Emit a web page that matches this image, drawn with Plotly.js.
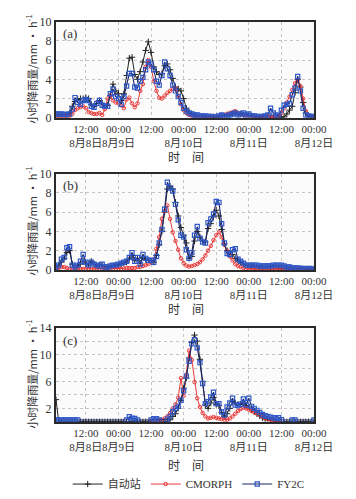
<!DOCTYPE html>
<html>
<head>
<meta charset="utf-8">
<script src="https://cdn.plot.ly/plotly-3.0.1.min.js"></script>
<style>
html,body{margin:0;padding:0;background:#fff;}
#chart{width:356px;height:499px;}
</style>
</head>
<body>
<div id="chart"></div>
<script>
// hours since 8月8日 00:00 (one value per hour, h = 1 … 96)
const hours = Array.from({length: 96}, (_, i) => i + 1);

const tickHours = [12, 24, 36, 48, 60, 72, 84, 96];
const tickLabels = ["12:00<br>8月8日", "00:00<br>8月9日", "12:00", "00:00<br>8月10日",
                    "12:00", "00:00<br>8月11日", "12:00", "00:00<br>8月12日"];

const seriesNames = ["自动站", "CMORPH", "FY2C"];
const panelLabels = ["(a)", "(b)", "(c)"];
const yTitle = "小时降雨量/mm · h<sup>-1</sup>";
const xTitle = "时　间";

// ---- panel (a) ----
const autoA = [
 0.3,0.3,0.3,0.3,0.3,0.5,1.2,1.7,1.9,2.0,
 2.0,2.1,2.0,1.4,1.2,1.5,1.8,1.5,1.2,1.3,
 2.3,3.5,2.8,2.5,1.8,2.5,4.4,6.2,6.3,4.5,
 4.0,4.8,5.8,7.0,7.9,6.8,5.3,4.8,4.5,4.6,
 5.4,5.6,5.0,4.1,3.2,3.0,2.8,2.0,1.0,0.6,
 0.4,0.3,0.2,0.2,0.1,0.1,0.1,0.1,0.1,0.1,
 0.1,0.2,0.2,0.3,0.3,0.4,0.5,0.4,0.4,0.3,
 0.3,0.3,0.2,0.1,0.1,0.1,0.1,0.1,0.1,0.1,
 0.1,0.1,0.05,0.05,0.1,0.4,0.8,1.2,2.6,4.0,
 3.2,1.6,0.5,0.2,0.1,0.1];
const cmorphA = [
 0.1,0.1,0.1,0.1,0.15,0.2,0.4,0.8,1.0,1.1,
 1.2,1.0,0.6,0.5,0.4,0.4,0.5,0.3,0.9,2.0,
 2.3,1.8,1.6,1.5,1.3,1.0,1.9,2.1,1.5,1.1,
 1.5,2.8,3.5,5.3,6.0,5.3,3.8,2.8,2.1,2.0,
 2.3,2.6,2.8,3.0,3.0,2.3,1.4,0.8,0.5,0.3,
 0.2,0.15,0.1,0.1,0.1,0.1,0.1,0.1,0.1,0.1,
 0.1,0.2,0.3,0.4,0.5,0.6,0.7,0.5,0.4,0.3,
 0.3,0.2,0.2,0.1,0.1,0.1,0.1,0.1,0.1,0.1,
 0.1,0.1,0.2,0.5,1.0,1.6,2.2,2.9,3.6,3.9,
 3.3,2.0,0.7,0.2,0.1,0.1];
const fy2cA = [
 0.4,0.4,0.4,0.35,0.35,0.4,0.9,2.1,1.6,1.4,
 1.8,1.9,1.8,1.2,1.1,1.5,1.8,1.3,1.2,1.2,
 2.5,3.0,2.2,2.0,1.4,2.2,3.3,4.6,4.6,3.2,
 3.1,3.8,4.2,5.0,5.8,5.6,5.0,3.8,3.4,4.4,
 5.8,5.1,4.4,3.4,2.8,2.2,1.6,1.0,0.7,0.5,
 0.4,0.3,0.3,0.2,0.2,0.2,0.15,0.15,0.1,0.1,
 0.2,0.3,0.2,0.2,0.3,0.4,0.5,0.3,0.4,0.5,
 0.3,0.4,0.2,0.2,0.15,0.1,0.15,0.2,0.3,1.0,
 0.5,0.3,0.2,0.8,1.3,1.4,1.5,2.4,3.1,4.3,
 2.8,1.0,0.3,0.2,0.15,0.1];

// ---- panel (b) ----
const autoB = [
 0.2,0.4,0.8,1.2,1.8,2.0,0.6,0.3,0.4,0.6,
 0.9,0.6,0.5,0.9,0.6,0.4,0.5,0.5,0.3,0.3,
 0.4,0.4,0.5,0.5,0.6,0.7,0.8,1.2,1.5,1.0,
 1.2,0.7,1.3,1.1,1.0,0.9,0.8,1.5,2.6,4.0,
 6.0,8.4,8.7,8.4,7.0,5.6,4.4,3.6,2.8,1.2,
 1.4,3.0,4.0,3.4,3.0,2.9,4.3,4.8,5.5,6.2,
 5.6,4.2,2.7,2.0,1.6,1.6,1.2,1.0,0.8,0.6,
 0.5,0.4,0.4,0.3,0.3,0.3,0.3,0.3,0.3,0.3,
 0.3,0.3,0.2,0.2,0.2,0.2,0.2,0.1,0.1,0.1,
 0.1,0.1,0.1,0.1,0.1,0.1];
const cmorphB = [
 0.1,0.2,0.3,0.3,0.2,0.1,0.1,0.1,0.1,0.1,
 0.1,0.1,0.1,0.1,0.1,0.1,0.1,0.1,0.1,0.1,
 0.1,0.1,0.1,0.1,0.1,0.15,0.2,0.2,0.2,0.2,
 0.3,0.3,0.4,0.5,0.6,0.8,1.1,2.2,3.4,5.3,
 6.1,6.7,5.3,3.9,3.0,2.1,1.2,0.7,0.45,0.35,
 0.4,0.5,0.6,0.8,1.1,1.5,2.0,2.5,3.1,3.6,
 3.9,3.4,2.6,2.0,1.4,1.0,0.6,0.4,0.3,0.2,
 0.1,0.1,0.1,0.1,0.1,0.1,0.1,0.1,0.1,0.1,
 0.1,0.1,0.1,0.1,0.1,0.1,0.1,0.1,0.1,0.1,
 0.1,0.1,0.1,0.1,0.1,0.1];
const fy2cB = [
 0.3,0.5,1.1,1.3,2.3,2.4,0.5,0.3,0.5,0.9,
 1.6,0.8,0.5,0.8,0.6,0.5,0.4,0.6,0.3,0.3,
 0.4,0.5,0.5,0.6,0.7,0.8,0.9,1.3,1.8,0.9,
 1.3,0.6,1.6,1.2,1.0,1.0,0.8,1.4,2.8,4.2,
 6.3,9.1,8.5,8.2,6.8,5.2,3.6,3.4,2.1,1.2,
 1.8,3.6,4.5,3.3,2.9,2.8,4.9,5.3,5.8,7.1,
 7.0,4.8,2.8,1.7,1.6,2.1,2.2,1.1,0.9,0.7,
 0.5,0.5,0.5,0.5,0.5,0.4,0.4,0.4,0.4,0.4,
 0.5,0.5,0.5,0.5,0.4,0.3,0.3,0.2,0.2,0.2,
 0.15,0.15,0.1,0.15,0.1,0.1];

// ---- panel (c) ----
const autoC = [
 3.3,0,0,0,0,0,0,0,0,0,
 0,0,0,0,0,0,0,0,0,0,
 0,0,0,0,0,0,0,0,0,0,
 0,0,0,0,0,0,0,0,0,0,
 0,0,0.3,0.8,1.2,2.0,3.2,5.0,6.5,9.5,
 11.8,12.9,12.0,9.3,6.0,2.5,2.0,2.8,3.6,2.6,
 2.4,1.4,0.8,1.2,2.0,3.0,2.8,2.6,2.6,2.7,
 2.4,2.2,1.8,1.5,1.2,0.9,0.6,0.4,0.3,0.2,
 0.1,0,0,0,0,0,0,0,0,0,
 0,0,0,0,0,0];
const cmorphC = [
 null,null,null,null,null,null,null,null,null,null,
 null,null,null,null,null,null,null,null,null,null,
 null,null,null,null,null,null,null,null,null,null,
 null,null,null,null,null,0.1,0.15,0.2,0.25,0.3,
 0.5,0.8,1.3,2.0,2.6,3.6,6.5,3.9,7.0,10.6,
 9.2,5.9,3.5,2.2,1.3,0.8,0.5,0.6,0.7,0.6,
 0.5,0.4,0.3,0.3,0.5,0.8,1.2,1.6,1.9,2.1,
 2.0,1.8,1.6,1.4,1.2,1.0,0.8,0.6,0.4,0.3,
 0.2,0.1,0.1,null,null,null,null,null,null,null,
 null,null,null,null,null,null];
const fy2cC = [
 0.27,0.27,0.27,0.27,0.27,0.27,0.27,0.27,0.27,null,
 null,null,null,null,null,null,null,null,null,null,
 null,null,null,null,null,null,0.27,0.75,0.55,0.5,
 0.27,null,null,null,null,0.27,0.45,0.45,0.27,null,
 null,0.4,0.8,1.5,2.0,2.3,3.2,4.6,6.8,9.0,
 11.6,12.2,11.0,8.8,5.7,2.7,3.0,3.7,4.4,2.7,
 2.7,1.5,1.0,2.2,2.8,3.5,2.5,2.4,2.6,3.4,
 2.5,3.5,2.3,2.0,1.7,1.4,1.1,0.9,0.8,0.7,
 0.6,0.5,0.6,0.3,null,null,null,0.27,0.27,null,
 null,null,null,null,null,0.27];

const panels = [
  {auto: autoA, cmorph: cmorphA, fy2c: fy2cA, yMax: 10, yTicks: [0,2,4,6,8,10]},
  {auto: autoB, cmorph: cmorphB, fy2c: fy2cB, yMax: 10, yTicks: [0,2,4,6,8,10]},
  {auto: autoC, cmorph: cmorphC, fy2c: fy2cC, yMax: 14, yTicks: [2,6,10,14]}
];

// layout geometry (paper fractions)
const W = 356, H = 499;
const xDom = [56 / W, 314 / W];
const yDoms = [[1 - 118.3 / H, 1 - 21.7 / H], [1 - 271 / H, 1 - 174.3 / H], [1 - 423.5 / H, 1 - 329 / H]];
const xTitleY = [1 - 157 / H, 1 - 310 / H, 1 - 466 / H];

const serif = "Liberation Serif, 'Times New Roman', 'Noto Sans CJK SC', serif";
const cjk = "'Noto Sans CJK SC', 'Liberation Serif', sans-serif";

const blackColor = "#222";
const redColor = "#e8393a";
const blueLine = "#1b2466";
const blueMarker = "#2f58c8";
const gridStyle = {showgrid: true, gridcolor: "#c4c4c4", griddash: "dot", gridwidth: 1};

const traces = [];
const layout = {
  width: W, height: H,
  margin: {l: 0, r: 0, t: 0, b: 0},
  paper_bgcolor: "#ffffff",
  plot_bgcolor: "#fbfbfb",
  showlegend: true,
  legend: {
    orientation: "h", x: 0.53, xanchor: "center", y: 1 - 486 / H, yanchor: "middle",
    font: {family: serif, size: 11, color: "#333"},
    itemwidth: 30, bgcolor: "rgba(0,0,0,0)", traceorder: "normal"
  },
  annotations: []
};

panels.forEach((p, i) => {
  const n = i === 0 ? "" : String(i + 1);
  const xa = "x" + n, ya = "y" + n;
  traces.push({
    x: hours, y: p.auto, xaxis: xa, yaxis: ya, type: "scatter", mode: "lines+markers",
    name: seriesNames[0], legendgroup: "a", showlegend: i === 0, legendrank: 1,
    line: {color: blackColor, width: 1},
    marker: {symbol: "cross-thin-open", size: 4.5, color: blackColor, line: {width: 1, color: blackColor}}
  });
  traces.push({
    x: hours, y: p.cmorph, xaxis: xa, yaxis: ya, type: "scatter", mode: "lines+markers",
    name: seriesNames[1], legendgroup: "c", showlegend: i === 0, legendrank: 2,
    line: {color: redColor, width: 1},
    marker: {symbol: "circle-open", size: 3.5, color: redColor, line: {width: 1}}
  });
  traces.push({
    x: hours, y: p.fy2c, xaxis: xa, yaxis: ya, type: "scatter", mode: "lines+markers",
    name: seriesNames[2], legendgroup: "f", showlegend: i === 0, legendrank: 3,
    connectgaps: true,
    line: {color: blueLine, width: 1.1},
    marker: {symbol: "square-open", size: 4.2, color: blueMarker, line: {width: 1.2}}
  });

  layout["xaxis" + n] = Object.assign({
    domain: xDom, anchor: ya, range: [1, 96],
    tickmode: "array", tickvals: tickHours, ticktext: tickLabels, tickangle: 0,
    tickfont: {family: serif, size: 11, color: "#333"},
    zeroline: false, showline: true, mirror: true, linecolor: "#2a2a2a", linewidth: 2,
    ticks: ""
  }, gridStyle);
  layout["yaxis" + n] = Object.assign({
    domain: yDoms[i], anchor: xa, range: [0, p.yMax],
    tickmode: "array", tickvals: p.yTicks,
    tickfont: {family: serif, size: 12, color: "#333"},
    zeroline: false, showline: true, mirror: true, linecolor: "#2a2a2a", linewidth: 2,
    ticks: "",
    minor: Object.assign({dtick: 2, tick0: 0, ticks: ""}, gridStyle)
  }, gridStyle);
  layout.annotations.push({
    text: panelLabels[i], xref: xa + " domain", yref: ya + " domain", x: 0.02, y: 0.97,
    xanchor: "left", yanchor: "top", showarrow: false,
    font: {family: serif, size: 13, color: "#333"}
  });
  layout.annotations.push({
    text: yTitle, xref: "paper", yref: "paper", x: 32 / W, y: (yDoms[i][0] + yDoms[i][1]) / 2,
    xanchor: "center", yanchor: "middle", textangle: -90, showarrow: false,
    font: {family: cjk, size: 11, color: "#333"}
  });
  layout.annotations.push({
    text: xTitle, xref: "paper", yref: "paper", x: 186 / W, y: xTitleY[i],
    xanchor: "center", yanchor: "middle", showarrow: false,
    font: {family: cjk, size: 12, color: "#333"}
  });
});

Plotly.newPlot("chart", traces, layout, {displayModeBar: false, staticPlot: true});
</script>
</body>
</html>
